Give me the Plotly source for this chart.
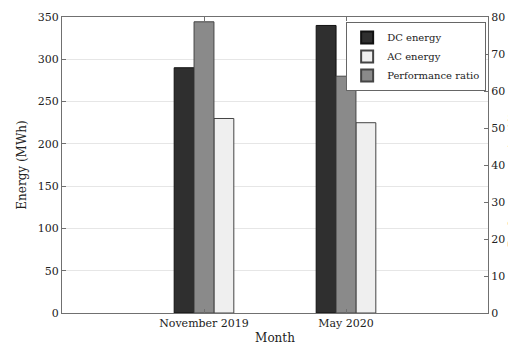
import plotly.graph_objects as go

months = ["November 2019", "May 2020"]
dc_energy = [290, 340]
ac_energy = [230, 225]
perf_ratio = [78.7, 64]

FONT = "DejaVu Serif"
xpos = [1, 2]
w = 0.14

fig = go.Figure()
fig.add_trace(go.Bar(x=xpos, y=dc_energy, name="DC energy", width=w, offset=-1.5 * w,
                     marker=dict(color="#2f2f2f", line=dict(color="#111111", width=1)),
                     legendrank=1))
fig.add_trace(go.Bar(x=xpos, y=ac_energy, name="AC energy", width=w, offset=0.5 * w,
                     marker=dict(color="#efefef", line=dict(color="#444444", width=1)),
                     legendrank=2))
fig.add_trace(go.Bar(x=xpos, y=perf_ratio, name="Performance ratio", width=w, offset=-0.5 * w,
                     yaxis="y2",
                     marker=dict(color="#8a8a8a", line=dict(color="#444444", width=1)),
                     legendrank=3))

axis_line = "#707070"
fig.update_layout(
    # page body has an 8px margin, so the figure is drawn 8px smaller and offset
    width=508, height=338,
    margin=dict(l=54, r=28, t=9, b=33),
    paper_bgcolor="white", plot_bgcolor="white",
    font=dict(family=FONT, size=11, color="#222222"),
    barmode="overlay",
    showlegend=True,
    legend=dict(x=0.667, y=0.983, xanchor="left", yanchor="top",
                bordercolor="#666666", borderwidth=1, bgcolor="white",
                font=dict(family=FONT, size=10), tracegroupgap=0,
                itemsizing="constant", itemwidth=30),
    xaxis=dict(range=[0, 3], tickvals=xpos, ticktext=months,
               showline=True, linecolor=axis_line, linewidth=1, mirror="ticks",
               ticks="inside", ticklen=4, tickcolor=axis_line, showgrid=False,
               title=dict(text="Month", standoff=4, font=dict(size=12)),
               zeroline=False, automargin=False),
    yaxis=dict(range=[0, 350], dtick=50, showline=True, linecolor=axis_line, linewidth=1,
               ticks="inside", ticklen=4, tickcolor=axis_line,
               showgrid=True, gridcolor="#e6e6e6", gridwidth=1, zeroline=False,
               title=dict(text="Energy (MWh)", standoff=8, font=dict(size=12)),
               automargin=False),
    yaxis2=dict(range=[0, 80], dtick=10, overlaying="y", side="right",
                showline=True, linecolor=axis_line, linewidth=1,
                ticks="inside", ticklen=4, tickcolor=axis_line,
                showgrid=False, zeroline=False, automargin=False),
    annotations=[dict(text="Performance ratio (%)", xref="paper", yref="paper",
                      x=1.06, y=0.45, xanchor="center", yanchor="middle",
                      textangle=-90, showarrow=False,
                      font=dict(family=FONT, size=12, color="#222222"))],
)

fig.write_html("out.html")
